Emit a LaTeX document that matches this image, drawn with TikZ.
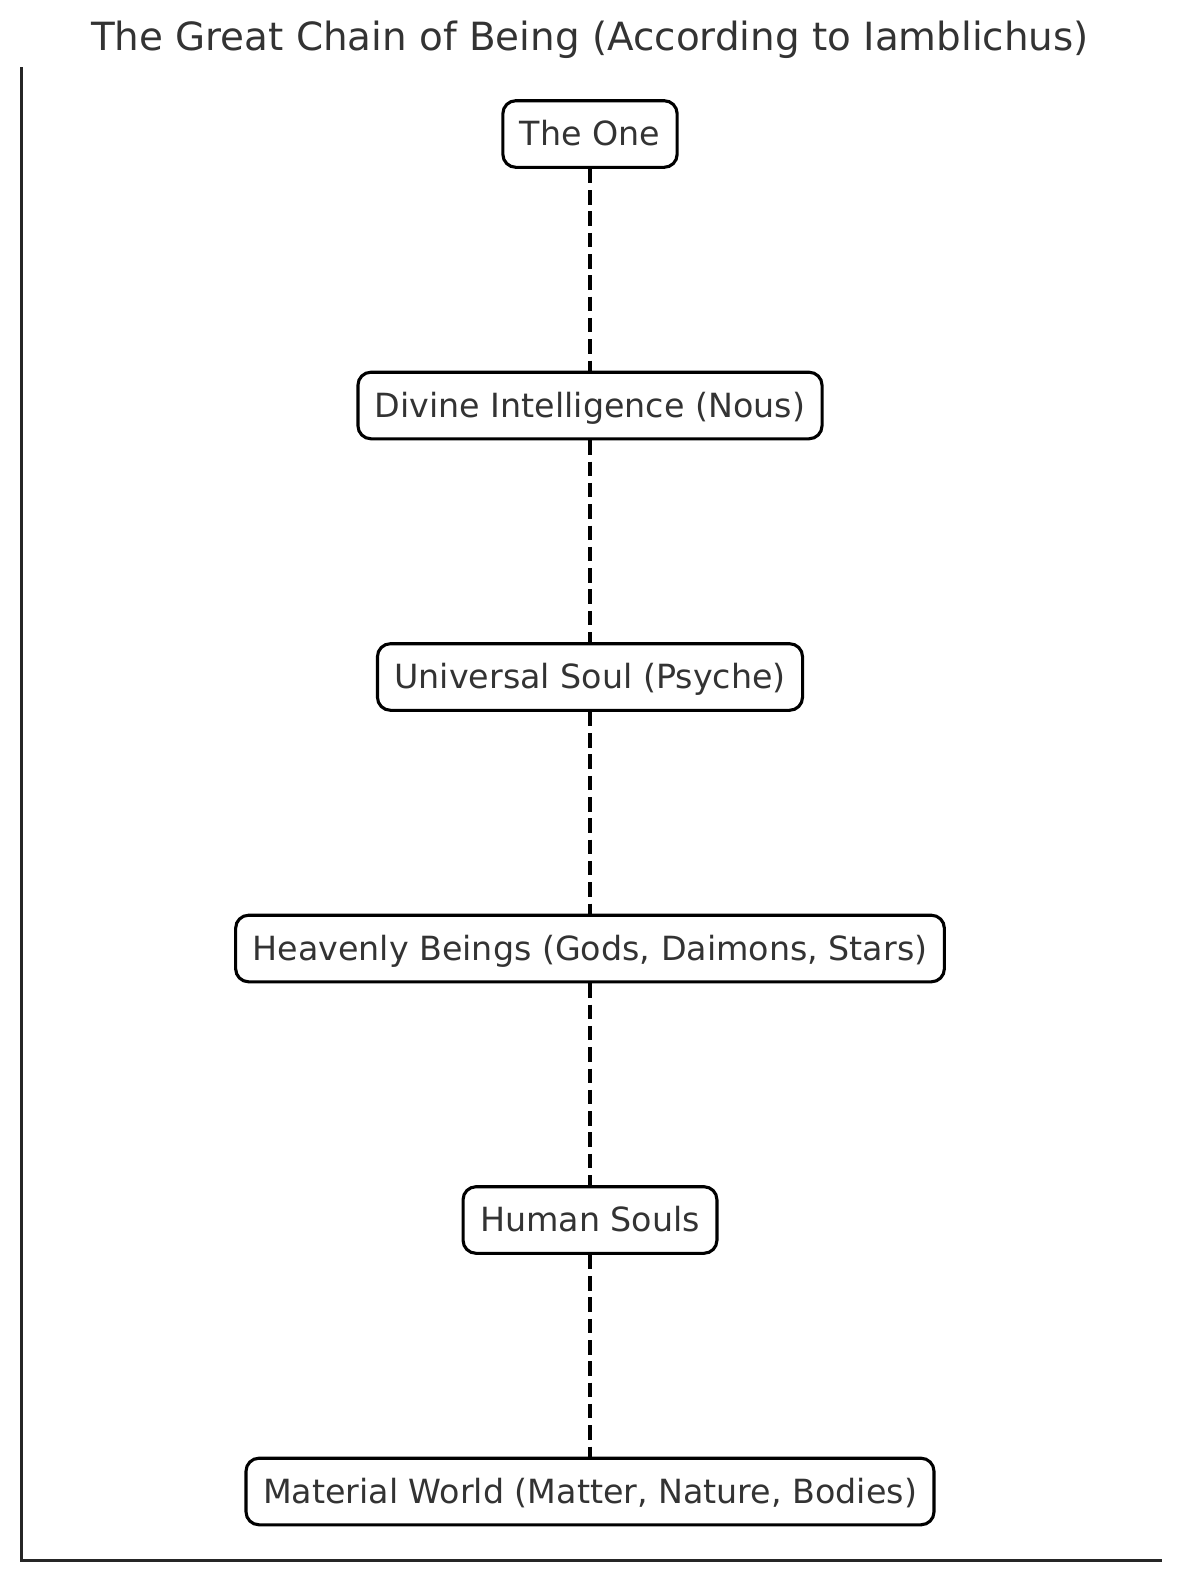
\documentclass[tikz,border=0pt]{standalone}
\usepackage{fontspec}
\setmainfont{DejaVu Sans}
\definecolor{txtgray}{HTML}{333333}
\definecolor{axgray}{HTML}{262626}
\begin{document}
\begin{tikzpicture}[x=1pt,y=1pt,
  levelbox/.style={draw=black, line width=3.1pt, fill=white, rounded corners=13pt,
    text=txtgray, font=\fontsize{33.3}{40}\selectfont,
    inner xsep=17pt, inner ysep=0pt, text height=31.5pt, text depth=8.5pt,
    minimum height=66.6pt},
  chainlink/.style={draw=black, line width=4.3pt, dash pattern=on 14.5pt off 6.8pt},
  axisline/.style={draw=axgray, line width=3pt}]
\useasboundingbox (0,0) rectangle (1180,-1580);
% axes
\coordinate (axtop) at (21,-67);
\coordinate (axcorner) at (21,-1560);
\coordinate (axright) at (1162,-1560);
\draw[axisline] (axtop) -- (axcorner) -- (axright);
% title
\node[anchor=base, text=txtgray, font=\fontsize{38.85}{46}\selectfont, inner sep=0pt]
  (title) at (590,-50) {The Great Chain of Being (According to Iamblichus)};
% levels
\node[levelbox] (one) at (590,-134) {The One};
\node[levelbox] (nous) at (590,-405.5) {Divine Intelligence (Nous)};
\node[levelbox] (psyche) at (590,-677) {Universal Soul (Psyche)};
\node[levelbox] (heaven) at (590,-948.5) {Heavenly Beings (Gods, Daimons, Stars)};
\node[levelbox] (human) at (590,-1220) {Human Souls};
\node[levelbox] (matter) at (590,-1491.5) {Material World (Matter, Nature, Bodies)};
% connectors
\draw[chainlink] (one.south) -- (nous.north);
\draw[chainlink] (nous.south) -- (psyche.north);
\draw[chainlink] (psyche.south) -- (heaven.north);
\draw[chainlink] (heaven.south) -- (human.north);
\draw[chainlink] (human.south) -- (matter.north);
\end{tikzpicture}
\end{document}
